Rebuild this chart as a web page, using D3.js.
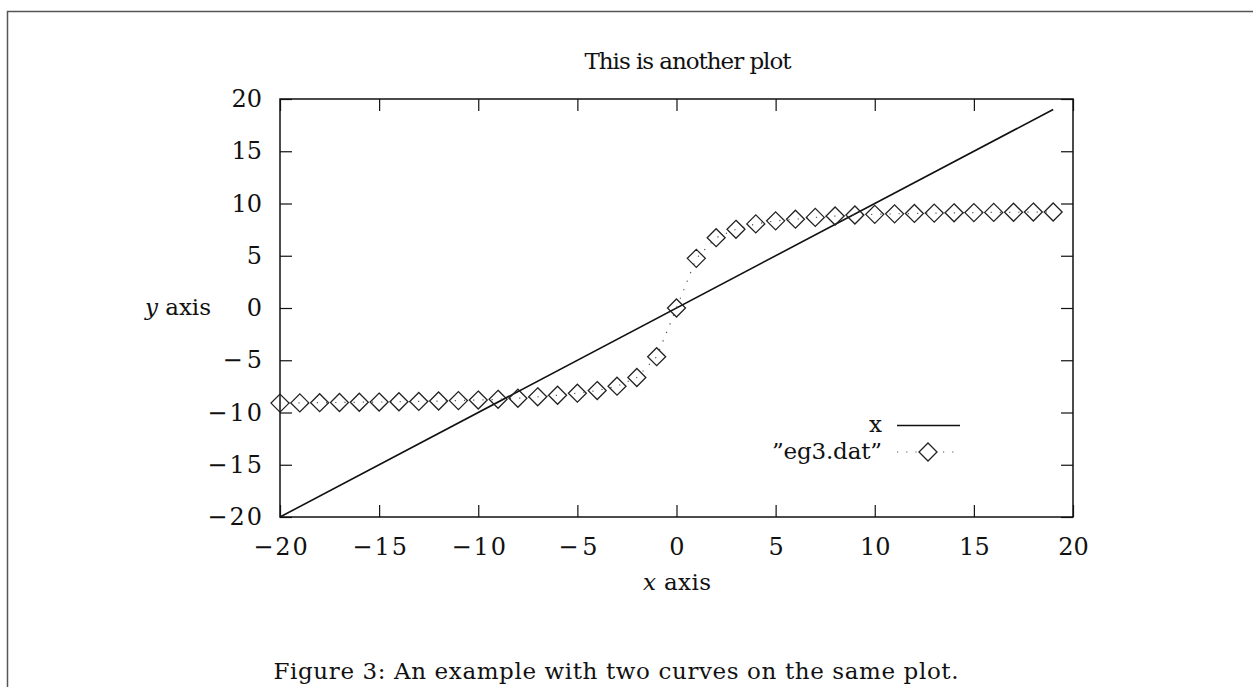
<!DOCTYPE html>
<html>
<head>
<meta charset="utf-8">
<script src="https://cdn.jsdelivr.net/npm/d3@7/dist/d3.min.js"></script>
<style>
  html, body { margin: 0; padding: 0; background: #fff; }
  svg text { font-family: "DejaVu Serif", "Liberation Serif", serif; fill: #111; }
</style>
</head>
<body>
<svg id="chart" width="1253" height="687"></svg>
<script>
// ---- data ----
const xTicks = [-20, -15, -10, -5, 0, 5, 10, 15, 20];
const yTicks = [-20, -15, -10, -5, 0, 5, 10, 15, 20];
const lineX = [-20, 19];
const lineY = [-20, 19];
const datX = [-20,-19,-18,-17,-16,-15,-14,-13,-12,-11,-10,-9,-8,-7,-6,-5,-4,-3,-2,-1,
              0,1,2,3,4,5,6,7,8,9,10,11,12,13,14,15,16,17,18,19];
const datY = [-9.10,-9.08,-9.06,-9.04,-9.02,-9.00,-8.97,-8.94,-8.90,-8.86,-8.81,-8.74,-8.64,-8.50,-8.35,-8.15,-7.90,-7.48,-6.65,-4.66,
              0.00,4.75,6.73,7.53,8.05,8.34,8.50,8.67,8.80,8.90,8.96,9.01,9.05,9.08,9.11,9.13,9.15,9.16,9.18,9.19];
const legendLabels = ["x", "\u201deg3.dat\u201d"];
const titleText = "This is another plot";
const captionText = "Figure 3: An example with two curves on the same plot.";

const svg = d3.select("#chart");
const fmt = d => (d < 0 ? "\u2212" + Math.abs(d) : String(d));
const FS = 23;      // words
const NFS = 24;     // numbers
const fit = (sel, len) => sel.attr("textLength", len).attr("lengthAdjust", "spacing");

// outer frame (left + top visible)
svg.append("path").attr("d", "M7.5,687 V11.5 H1253")
  .attr("fill", "none").attr("stroke", "#555").attr("stroke-width", 1.5);

const x = d3.scaleLinear().domain([-20, 20]).range([280, 1073]);
const y = d3.scaleLinear().domain([-20, 20]).range([517, 99]);

// axes with inward ticks
const gB = svg.append("g").attr("transform", `translate(0,${y(-20)})`)
  .call(d3.axisBottom(x).tickValues(xTicks).tickSizeInner(-12).tickSizeOuter(0).tickPadding(22).tickFormat(fmt));
const gT = svg.append("g").attr("transform", `translate(0,${y(20)})`)
  .call(d3.axisTop(x).tickValues(xTicks).tickSizeInner(-12).tickSizeOuter(0).tickFormat(""));
const gL = svg.append("g").attr("transform", `translate(${x(-20)},0)`)
  .call(d3.axisLeft(y).tickValues(yTicks).tickSizeInner(-12).tickSizeOuter(0).tickPadding(18).tickFormat(fmt));
const gR = svg.append("g").attr("transform", `translate(${x(20)},0)`)
  .call(d3.axisRight(y).tickValues(yTicks).tickSizeInner(-12).tickSizeOuter(0).tickFormat(""));
[gB, gT, gL, gR].forEach(g => {
  g.select(".domain").remove();
  g.selectAll(".tick line").attr("stroke", "#111").attr("stroke-width", 1.2);
  g.selectAll("text").attr("font-size", NFS).attr("font-family", "Liberation Serif").attr("fill", "#111");
});
gB.selectAll("text").attr("dy", "0.71em").attr("y", 21);
[gB, gL].forEach(g => g.selectAll(".tick text").filter(d => d < 0).each(function () {
  const w = this.getComputedTextLength();
  d3.select(this).call(fit, w + 4);
}));

// plot border
svg.append("rect").attr("x", x(-20)).attr("y", y(20))
  .attr("width", x(20) - x(-20)).attr("height", y(-20) - y(20))
  .attr("fill", "none").attr("stroke", "#111").attr("stroke-width", 1.5);

// line series x
svg.append("path").datum(lineX.map((v, i) => [v, lineY[i]]))
  .attr("d", d3.line().x(d => x(d[0])).y(d => y(d[1])))
  .attr("fill", "none").attr("stroke", "#111").attr("stroke-width", 1.6);

// dotted data line
const pts = datX.map((v, i) => [v, datY[i]]);
svg.append("path").datum(pts)
  .attr("d", d3.line().x(d => x(d[0])).y(d => y(d[1])))
  .attr("fill", "none").attr("stroke", "#555").attr("stroke-width", 1.2)
  .attr("stroke-dasharray", "1.2,8");

// diamonds
const diamond = (cx, cy, r) => `M${cx},${cy - r}L${cx + r},${cy}L${cx},${cy + r}L${cx - r},${cy}Z`;
svg.append("g").selectAll("path").data(pts).join("path")
  .attr("d", d => diamond(x(d[0]), y(d[1]), 9))
  .attr("fill", "none").attr("stroke", "#222").attr("stroke-width", 1.3);

// legend
const lg = svg.append("g");
lg.append("text").attr("x", 882).attr("y", 432).attr("text-anchor", "end").attr("font-size", FS)
  .text(legendLabels[0]);
lg.append("line").attr("x1", 897).attr("x2", 960).attr("y1", 425.5).attr("y2", 425.5)
  .attr("stroke", "#111").attr("stroke-width", 1.6);
lg.append("text").attr("x", 882).attr("y", 459).attr("text-anchor", "end").attr("font-size", FS)
  .text(legendLabels[1]).call(fit, 110);
lg.append("line").attr("x1", 897).attr("x2", 960).attr("y1", 452).attr("y2", 452)
  .attr("stroke", "#555").attr("stroke-width", 1.2).attr("stroke-dasharray", "1.2,8");
lg.append("path").attr("d", diamond(928, 452, 9)).attr("fill", "#fff").attr("stroke", "#222").attr("stroke-width", 1.3);

// title
svg.append("text").attr("x", 688).attr("y", 69).attr("text-anchor", "middle").attr("font-size", FS)
  .text(titleText).call(fit, 207);

// axis labels
const xl = svg.append("text").attr("x", 677).attr("y", 590).attr("text-anchor", "middle").attr("font-size", FS);
xl.append("tspan").attr("font-style", "italic").text("x");
xl.append("tspan").text(" axis");
xl.call(fit, 68);
const yl = svg.append("text").attr("x", 178).attr("y", 315).attr("text-anchor", "middle").attr("font-size", FS);
yl.append("tspan").attr("font-style", "italic").text("y");
yl.append("tspan").text(" axis");
yl.call(fit, 66);

// caption
svg.append("text").attr("x", 616).attr("y", 679).attr("text-anchor", "middle").attr("font-size", FS)
  .text(captionText).call(fit, 685);
</script>
</body>
</html>
